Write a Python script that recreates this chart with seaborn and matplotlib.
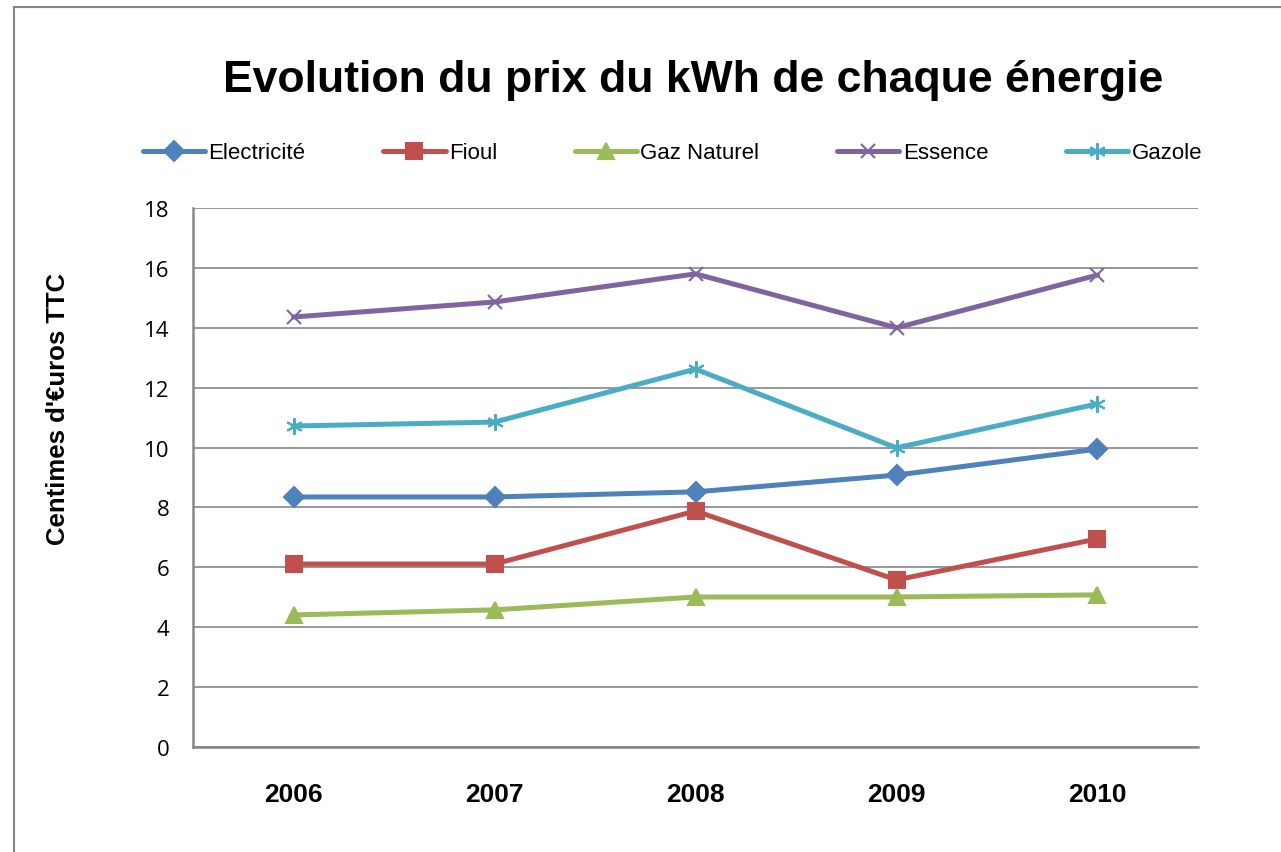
import matplotlib
matplotlib.use("Agg")
import matplotlib.pyplot as plt
from matplotlib.patches import Rectangle
from matplotlib.ticker import MultipleLocator, FixedLocator
import pandas as pd
import seaborn as sns

# values (centimes d'euros TTC per kWh)
years = [2006, 2007, 2008, 2009, 2010]
electricite = [8.35, 8.35, 8.52, 9.08, 9.95]
fioul = [6.11, 6.11, 7.88, 5.58, 6.95]
gaz_naturel = [4.41, 4.58, 5.01, 5.01, 5.08]
essence = [14.36, 14.86, 15.8, 14.0, 15.76]
gazole = [10.72, 10.85, 12.62, 9.99, 11.46]

series_names = ["Electricité", "Fioul", "Gaz Naturel", "Essence", "Gazole"]
colors = ["#4F81BD", "#C0504D", "#9BBB59", "#8064A2", "#4BACC6"]
marker_styles = ["D", "s", "^", "x", (6, 2, 0)]
marker_sizes = [10, 11, 12, 10, 12]

sns.set_theme(style="white")
FONT = ["Liberation Sans", "DejaVu Sans"]
plt.rcParams["font.family"] = FONT
plt.rcParams["text.color"] = "black"
plt.rcParams["axes.labelcolor"] = "black"

fig = plt.figure(figsize=(12.81, 8.53), dpi=100)
ax = fig.add_axes([0.1507, 0.1231, 0.7845, 0.6319])

# one call per series, since filled and line markers can't share a style mapping
for name, vals, c, m, ms in zip(series_names,
                                [electricite, fioul, gaz_naturel, essence, gazole],
                                colors, marker_styles, marker_sizes):
    d = pd.DataFrame({"annee": years, "prix": vals})
    sns.lineplot(data=d, x="annee", y="prix", color=c, marker=m, label=name,
                 linewidth=3.6, markersize=ms, markeredgewidth=1.5,
                 markeredgecolor=c, ax=ax)

ax.set_xlim(2005.5, 2010.5)
ax.set_ylim(0, 18)
ax.yaxis.set_major_locator(MultipleLocator(2))
ax.set_xticks(years)
ax.set_xticklabels([str(y) for y in years], fontweight="bold", fontsize=19)
ax.xaxis.set_minor_locator(FixedLocator([2005.5 + i for i in range(6)]))
ax.tick_params(axis="x", which="major", length=0, pad=25, labelcolor="black")
ax.tick_params(axis="x", which="minor", length=8, width=1.2, color="#868686", direction="out")
ax.tick_params(axis="y", length=6, width=1.2, color="#868686", direction="out", pad=11,
               labelcolor="black")
for lab in ax.get_yticklabels():
    lab.set_family(["Open Sans", "DejaVu Sans"])
    lab.set_fontsize(16)

ax.grid(axis="y", color="#868686", linewidth=1.2)
ax.set_axisbelow(True)
for side in ["top", "right"]:
    ax.spines[side].set_visible(False)
for side in ["left", "bottom"]:
    ax.spines[side].set_color("#868686")
    ax.spines[side].set_linewidth(1.8)

ax.set_xlabel("")
ax.set_ylabel("Centimes d'€uros TTC", fontsize=18.5, fontweight="bold")
ax.yaxis.set_label_coords(-0.122, 0.629)

handles, labels = ax.get_legend_handles_labels()
ax.legend_.remove()
fig.legend(handles, labels, loc="center", bbox_to_anchor=(0.525, 0.8195), ncol=5,
           frameon=False, fontsize=16, handlelength=2.8, columnspacing=3.5,
           handletextpad=0.15)

fig.suptitle("Evolution du prix du kWh de chaque énergie", x=0.541, y=0.906,
             fontsize=32, fontweight="bold", va="center")

# outer chart border (only top and left visible in the reference)
fig.patches.append(Rectangle((0.0109, -0.2), 1.5, 1.1906, transform=fig.transFigure,
                             fill=False, edgecolor="#868686", linewidth=1.5))

fig.savefig("out.png", dpi=100)
